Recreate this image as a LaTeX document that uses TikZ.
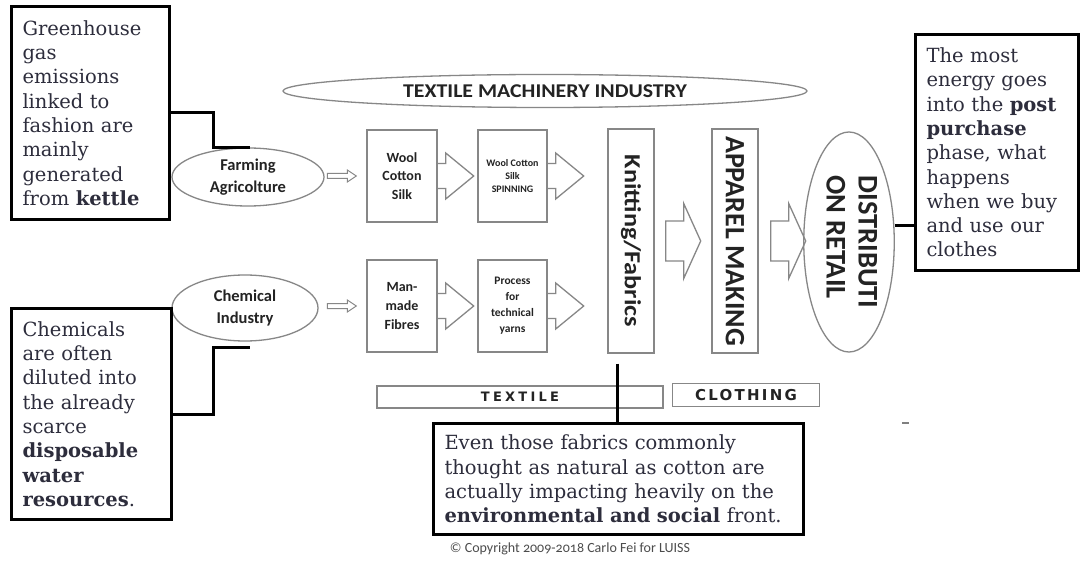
\documentclass[tikz,border=0pt]{standalone}
\usepackage{graphicx}
\usepackage{fontspec}
\setmainfont{DejaVu Serif}
\newfontfamily\cali{Carlito}
\newfontfamily\dvs{DejaVu Sans}
\usetikzlibrary{shapes.geometric}
\definecolor{shp}{RGB}{135,135,135}
\definecolor{txt}{RGB}{35,35,35}
\definecolor{ctxt}{RGB}{45,45,60}
\tikzset{
  gbox/.style={draw=shp, line width=1.4pt, rectangle, inner sep=0pt, text=txt, align=center},
  gell/.style={draw=shp, line width=1.3pt, ellipse, inner sep=0pt, text=txt, align=center},
  callout/.style={draw=black, line width=3pt, rectangle, inner xsep=11pt, inner ysep=0pt,
    align=left, text=ctxt, font=\fontsize{19.5}{24.3}\selectfont, anchor=north west},
  conn/.style={draw=black, line width=3pt},
  openarr/.pic={\draw[shp, line width=1.3pt] (0,12.5) -- (8,12.5) -- (8,23) -- (36,0) -- (8,-23) -- (8,-12.5) -- (0,-12.5);},
  bigarr/.pic={\draw[shp, line width=1.3pt] (0,-20) -- (18,-20) -- (18,-37.5) -- (35,0) -- (18,37.5) -- (18,20) -- (0,20) -- cycle;},
  smallarr/.pic={\draw[shp, line width=1pt] (0,-2.5) -- (20,-2.5) -- (20,-6) -- (29,0) -- (20,6) -- (20,2.5) -- (0,2.5) -- cycle;}
}
\begin{document}
\begin{tikzpicture}[x=1pt,y=-1pt]
\fill[white] (0,0) rectangle (1091,561);
\useasboundingbox (0,0) rectangle (1091,561);

% top machinery ellipse
\node[gell, minimum width=524pt, minimum height=33pt, font=\cali\bfseries\fontsize{19.5}{22}\selectfont] (tm) at (545,91) {\scalebox{1.12}[1]{TEXTILE MACHINERY INDUSTRY}};

% source ellipses
\node[gell, minimum width=152pt, minimum height=58pt, font=\cali\bfseries\fontsize{16.5}{22}\selectfont] (farm) at (248,177) {Farming\\Agricolture};
\node[gell, minimum width=146pt, minimum height=66pt, font=\cali\bfseries\fontsize{16.5}{22}\selectfont] (chem) at (245,308) {Chemical\\Industry};

% upper row boxes
\node[gbox, minimum width=70pt, minimum height=92pt, font=\cali\bfseries\fontsize{14}{18.5}\selectfont] (w1) at (402,176) {Wool\\Cotton\\Silk};
\node[gbox, minimum width=69pt, minimum height=92pt, font=\cali\bfseries\fontsize{10}{13}\selectfont] (w2) at (512.5,176) {Wool Cotton\\Silk\\SPINNING};
% lower row boxes
\node[gbox, minimum width=70pt, minimum height=92pt, font=\cali\bfseries\fontsize{14}{19}\selectfont] (m1) at (402,306) {Man-\\made\\Fibres};
\node[gbox, minimum width=69pt, minimum height=92pt, font=\cali\bfseries\fontsize{11.5}{16}\selectfont] (m2) at (512.5,306) {Process\\for\\technical\\yarns};

% tall boxes
\node[gbox, minimum width=46pt, minimum height=224pt, font=\cali\bfseries\fontsize{23}{28}\selectfont] (knit) at (631,241) {\rotatebox{-90}{\scalebox{1.14}[1]{Knitting/Fabrics}}};
\node[gbox, minimum width=46pt, minimum height=224pt, font=\cali\bfseries\fontsize{28}{30}\selectfont] (app) at (735,241) {\rotatebox{-90}{APPAREL MAKING}};
\node[gell, minimum width=64pt, minimum height=220pt, font=\cali\bfseries\fontsize{28.5}{32}\selectfont] (dist) at (849,242) {\rotatebox{-90}{\begin{tabular}{@{}l@{}}DISTRIBUTI\\ON RETAIL\end{tabular}}};

% arrows
\pic at ([xshift=-39pt]w1.west) {smallarr};
\pic at ([xshift=-39pt]m1.west) {smallarr};
\pic at (w1.east) {openarr};
\pic at (w2.east) {openarr};
\pic at (m1.east) {openarr};
\pic at (m2.east) {openarr};
\pic at ([xshift=11pt]knit.east) {bigarr};
\pic at ([xshift=12pt]app.east) {bigarr};

% bottom bars
\node[gbox, line width=1.2pt, minimum width=286pt, minimum height=22pt, font=\dvs\bfseries\fontsize{13}{15}\selectfont\addfontfeatures{LetterSpace=25}] (tx) at (520,397) {TEXTILE};
\node[gbox, line width=1.2pt, minimum width=147pt, minimum height=23pt, font=\dvs\bfseries\fontsize{15}{17}\selectfont\addfontfeatures{LetterSpace=15}] (cl) at (746,395) {CLOTHING};

% callouts
\node[callout, text width=136pt, minimum width=158pt, minimum height=213pt] (gh) at (10,5)
  {Greenhouse\\gas\\emissions\\linked to\\fashion are\\mainly\\generated\\from \textbf{kettle}};
\node[callout, text width=138pt, minimum width=160pt, minimum height=211pt] (cb) at (10,307)
  {Chemicals\\are often\\diluted into\\the already\\scarce\\\textbf{disposable}\\\textbf{water}\\\textbf{resources}.};
\node[callout, text width=141pt, minimum width=163pt, minimum height=236pt] (rb) at (914,33)
  {The most\\energy goes\\into the \textbf{post}\\\textbf{purchase}\\phase, what\\happens\\when we buy\\and use our\\clothes};
\node[callout, text width=348pt, minimum width=370pt, minimum height=111pt] (bb) at (432,422)
  {Even those fabrics commonly\\thought as natural as cotton are\\actually impacting heavily on the\\\textbf{environmental and social} front.};

% connectors
\draw[conn] (gh.east) -- ++(42,0) |- ([xshift=2pt]farm.north);
\draw[conn] (cb.east) -- ++(40,0) |- ([xshift=5pt,yshift=-6pt]chem.south);
\coordinate (dr) at ([yshift=16pt]dist.east);
\draw[conn] (dr) -- (dr -| rb.west);
\coordinate (kb) at ([xshift=-14pt,yshift=-10pt]knit.south);
\draw[conn] (kb) -- (kb |- bb.north);

% copyright and stray mark
\node[font=\cali\fontsize{14}{16}\selectfont\addfontfeatures{Numbers=OldStyle}, text=black!70] (cp) at (570,549) {\textcopyright\ Copyright 2009-2018 Carlo Fei for LUISS};
\draw[gray, line width=2pt] (902,423) -- (909,423);
\end{tikzpicture}
\end{document}
